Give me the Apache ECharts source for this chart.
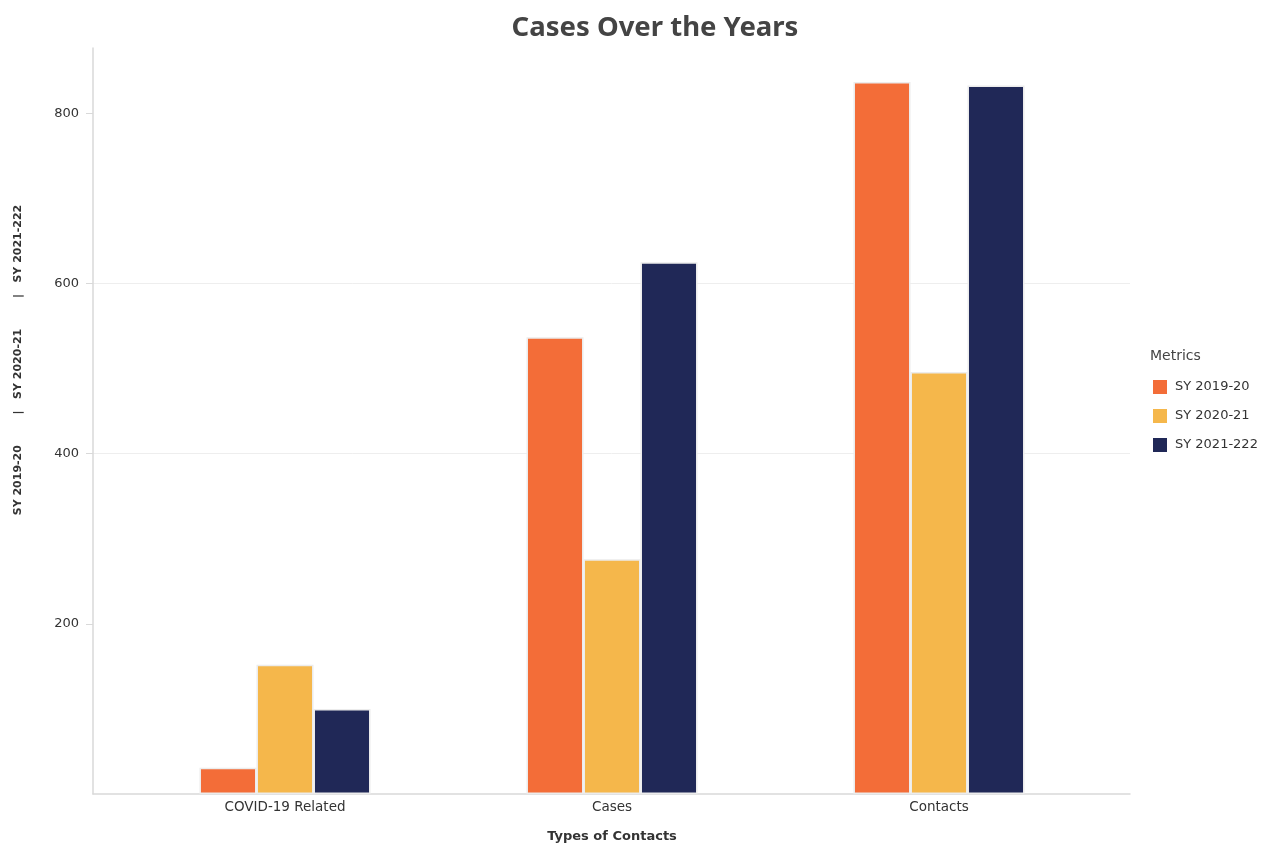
<!DOCTYPE html>
<html>
<head>
<meta charset="utf-8">
<title>Cases Over the Years</title>
<script src="https://cdn.jsdelivr.net/npm/echarts@6/dist/echarts.min.js"></script>
<style>
  html, body { margin: 0; padding: 0; background: #ffffff; }
  #chart { width: 1268px; height: 846px; }
</style>
</head>
<body>
<div id="chart"></div>
<script>
// Chart data
const categories = ['COVID-19 Related', 'Cases', 'Contacts'];
const seriesNames = ['SY 2019-20', 'SY 2020-21', 'SY 2021-222'];
const sy201920 = [31, 537, 837];
const sy202021 = [152, 276, 496];
const sy2021222 = [100, 625, 833];
const yTickLabels = [200, 400, 600, 800];

const FONT = 'DejaVu Sans';
const TITLE_FONT = 'Noto Sans';
const colors = ['#F36D38', '#F5B74B', '#202857'];
const values = [sy201920, sy202021, sy2021222];
const Y_MAX = 877;

const chart = echarts.init(document.getElementById('chart'), null, { renderer: 'canvas' });

const option = {
  backgroundColor: '#ffffff',
  animation: false,
  textStyle: { fontFamily: FONT },
  title: {
    text: 'Cases Over the Years',
    left: 650,
    textAlign: 'center',
    top: 9,
    textStyle: { fontFamily: TITLE_FONT, fontSize: 27.5, fontWeight: 'bold', color: '#444444' }
  },
  legend: {
    orient: 'vertical',
    left: 1148,
    top: 375,
    icon: 'rect',
    itemWidth: 14,
    itemHeight: 14,
    itemGap: 15,
    data: seriesNames,
    itemStyle: { borderWidth: 0 },
    textStyle: { fontFamily: FONT, fontSize: 13, color: '#333333', padding: [0, 0, 0, 3] }
  },
  graphic: [
    {
      type: 'text',
      left: 1150,
      top: 349,
      style: { text: 'Metrics', font: '14px "' + FONT + '"', fill: '#444444' }
    },
    {
      type: 'text',
      x: 18,
      y: 360,
      rotation: Math.PI / 2,
      style: {
        text: 'SY 2019-20        |   SY 2020-21        |   SY 2021-222',
        font: 'bold 11px "' + FONT + '"',
        fill: '#333333',
        align: 'center',
        verticalAlign: 'middle'
      }
    }
  ],
  grid: [
    { left: 93, right: 138, top: 48, bottom: 52, containLabel: false, outerBoundsMode: 'none' },
    { left: 121.5, right: 165.5, top: 48, bottom: 52, containLabel: false, outerBoundsMode: 'none' }
  ],
  xAxis: [
    {
      type: 'category',
      gridIndex: 0,
      data: categories,
      axisLine: { show: true, lineStyle: { color: '#d9d9d9', width: 1.5 } },
      axisTick: { show: false },
      axisLabel: { show: false },
      splitLine: { show: false }
    },
    {
      type: 'category',
      gridIndex: 1,
      data: categories,
      name: 'Types of Contacts',
      nameLocation: 'middle',
      nameGap: 36,
      nameTextStyle: { fontFamily: FONT, fontSize: 13, fontWeight: 'bold', color: '#333333' },
      axisLine: { show: false },
      axisTick: { show: false },
      axisLabel: { fontFamily: FONT, fontSize: 13.5, color: '#333333', margin: 6 },
      splitLine: { show: false }
    }
  ],
  yAxis: [
    {
      type: 'value',
      gridIndex: 0,
      min: 0,
      max: Y_MAX,
      interval: 200,
      axisLine: { show: true, lineStyle: { color: '#d9d9d9', width: 1.5 } },
      axisTick: { show: true, length: 7, customValues: yTickLabels, lineStyle: { color: '#d9d9d9' } },
      axisLabel: {
        fontFamily: FONT,
        fontSize: 13,
        color: '#333333',
        margin: 14,
        customValues: yTickLabels
      },
      splitLine: { show: true, showMinLine: false, showMaxLine: false, lineStyle: { color: '#eeeeee', width: 1 } }
    },
    {
      type: 'value',
      gridIndex: 1,
      min: 0,
      max: Y_MAX,
      interval: 200,
      show: false,
      splitLine: { show: false }
    }
  ],
  series: seriesNames.map(function (name, i) {
    return {
      name: name,
      type: 'bar',
      xAxisIndex: 1,
      yAxisIndex: 1,
      data: values[i],
      barWidth: 57,
      barGap: '0%',
      itemStyle: { color: colors[i], borderColor: '#ececec', borderWidth: 1.5 }
    };
  })
};

chart.setOption(option);
</script>
</body>
</html>
